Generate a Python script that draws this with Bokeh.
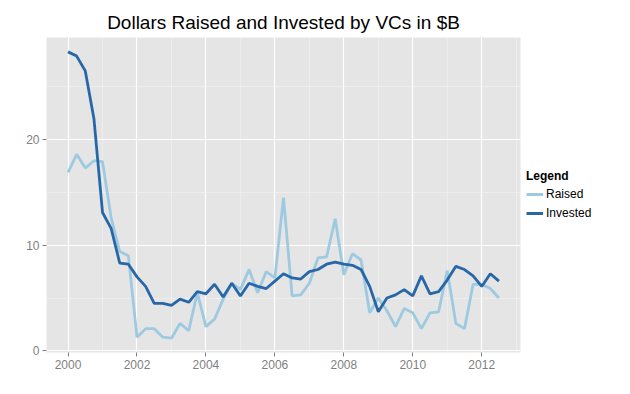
from bokeh.plotting import figure
from bokeh.models import FixedTicker, Legend, LegendItem, Range1d
from bokeh.embed import file_html
from bokeh.resources import INLINE

quarters = [2000 + 0.25 * i for i in range(51)]

raised = [16.9, 18.6, 17.3, 18.0, 17.9, 12.6, 9.4, 9.0,
          1.3, 2.1, 2.1, 1.3, 1.2, 2.6, 1.9, 5.5,
          2.3, 3.0, 4.9, 6.4, 5.8, 7.7, 5.5, 7.5,
          6.9, 14.5, 5.2, 5.3, 6.4, 8.8, 8.9, 12.5,
          7.2, 9.2, 8.6, 3.6, 5.0, 3.8, 2.3, 4.0,
          3.6, 2.1, 3.6, 3.7, 7.6, 2.6, 2.1, 6.3,
          6.3, 5.9, 5.0]

invested = [28.3, 27.9, 26.5, 22.0, 13.1, 11.6, 8.3, 8.2,
            7.0, 6.1, 4.5, 4.5, 4.3, 4.9, 4.6, 5.6,
            5.4, 6.3, 5.1, 6.4, 5.2, 6.4, 6.1, 5.9,
            6.6, 7.3, 6.9, 6.8, 7.5, 7.7, 8.2, 8.4,
            8.2, 8.1, 7.7, 6.1, 3.7, 5.0, 5.3, 5.8,
            5.2, 7.1, 5.4, 5.6, 6.7, 8.0, 7.7, 7.1,
            6.1, 7.3, 6.6]

x_ticks = [2000, 2002, 2004, 2006, 2008, 2010, 2012]
x_minor = [2001, 2003, 2005, 2007, 2009, 2011, 2013]
y_ticks = [0, 10, 20]
y_minor = [5, 15, 25]

FONT = "Liberation Sans"

p = figure(frame_width=474, frame_height=315, output_backend="svg", toolbar_location=None,
           x_range=Range1d(1999.375, 2013.125), y_range=Range1d(-0.155, 29.66),
           min_border_left=46, min_border_right=10, min_border_top=37,
           min_border_bottom=34)

p.title.text = "Dollars Raised and Invested by VCs in $B"
p.title.align = "center"
p.title.text_font = FONT
p.title.text_font_size = "19px"
p.title.text_font_style = "normal"
p.title.text_color = "black"
p.title.offset = 0

p.background_fill_color = "#e5e5e5"
p.border_fill_color = "white"
p.outline_line_color = None

p.xaxis.ticker = FixedTicker(ticks=x_ticks, minor_ticks=x_minor)
p.yaxis.ticker = FixedTicker(ticks=y_ticks, minor_ticks=y_minor)

for ax in (p.xaxis, p.yaxis):
    ax.axis_line_color = None
    ax.major_tick_line_color = "#7f7f7f"
    ax.major_tick_in = 0
    ax.major_tick_out = 4
    ax.minor_tick_line_color = None
    ax.major_label_text_color = "#7f7f7f"
    ax.major_label_text_font = FONT
    ax.major_label_text_font_size = "12px"
p.xaxis.major_label_standoff = 3
p.yaxis.major_label_standoff = 3

for g in (p.xgrid, p.ygrid):
    g.grid_line_color = "white"
    g.grid_line_width = 1.2
    g.minor_grid_line_color = "#f2f2f2"
    g.minor_grid_line_width = 0.6

r1 = p.line(quarters, raised, line_color="#9ecae1", line_width=2.8)
r2 = p.line(quarters, invested, line_color="#2767a8", line_width=2.8)

legend = Legend(items=[LegendItem(label="Raised", renderers=[r1]),
                       LegendItem(label="Invested", renderers=[r2])],
                title="Legend", location="left")
legend.title_text_font = FONT
legend.title_text_font_style = "bold"
legend.title_text_font_size = "12px"
legend.title_text_color = "black"
legend.label_text_font = FONT
legend.label_text_font_size = "12px"
legend.label_text_color = "black"
legend.background_fill_alpha = 0
legend.border_line_color = None
legend.glyph_width = 17
legend.glyph_height = 17
legend.label_standoff = 3
legend.spacing = 2
legend.padding = 4
legend.margin = 6
legend.title_standoff = 3
p.add_layout(legend, "right")

open("out.html", "w").write(file_html(p, INLINE))
